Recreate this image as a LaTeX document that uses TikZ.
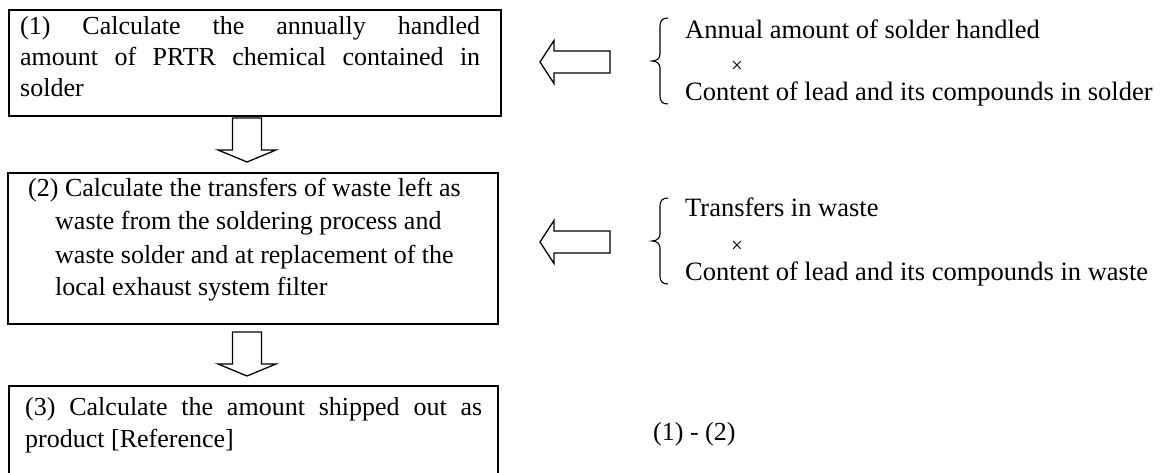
\documentclass[tikz,border=0pt]{standalone}
\usepackage{fontspec}
\setmainfont{Liberation Serif}
\begin{document}
\begin{tikzpicture}[x=1pt,y=-1pt,
  box/.style={draw,line width=1.6pt,rectangle,inner sep=0pt,anchor=north west},
  txt/.style={anchor=base west,inner sep=0pt,font=\fontsize{26}{32}\selectfont},
  rtxt/.style={anchor=base west,inner sep=0pt,font=\fontsize{26.5}{32}\selectfont},
  times/.style={anchor=center,inner sep=0pt,font=\fontsize{21}{24}\selectfont},
  fat/.style={draw,line width=1.3pt,fill=white,line join=miter},
  brace/.style={draw,line width=1.1pt},
  pics/downarrow/.style={code={
    \path[fat] (-14.5,0) -- (14.5,0) -- (14.5,32) -- (29,32) -- (0,44)
      -- (-29,32) -- (-14.5,32) -- cycle;}},
  pics/leftarrow/.style={code={
    \path[fat] (0,0) -- (14,-21.5) -- (14,-11) -- (70,-11) -- (70,11)
      -- (14,11) -- (14,21.5) -- cycle;}},
  pics/lbrace/.style={code={
    \path[brace] (8,-43) .. controls (2,-43) and (0,-40) .. (0,-35) -- (0,-7)
      .. controls (0,-3) and (-3,0) .. (-8,0)
      .. controls (-3,0) and (0,3) .. (0,7) -- (0,35)
      .. controls (0,40) and (2,43) .. (8,43);}}
]
\useasboundingbox (0,0) rectangle (1165,473);
\clip (0,0) rectangle (1165,473);

% --- step boxes ---
\node[box,minimum width=492pt,minimum height=106pt] (b1) at (8,9) {};
\node[box,minimum width=490pt,minimum height=151pt] (b2) at (7,172) {};
\node[box,minimum width=489pt,minimum height=110pt] (b3) at (8,385) {};

% --- step (1) ---
\node[txt] (t1a) at (20,35) {\makebox[460pt][s]{(1) Calculate the annually handled}};
\node[txt] (t1b) at (20,66) {\makebox[460pt][s]{amount of PRTR chemical contained in}};
\node[txt] (t1c) at (20,97) {solder};

% --- step (2) ---
\node[txt] (t2a) at (28,197) {(2) Calculate the transfers of waste left as};
\node[txt] (t2b) at (55,230) {waste from the soldering process and};
\node[txt] (t2c) at (55,263) {waste solder and at replacement of the};
\node[txt] (t2d) at (55,295) {local exhaust system filter};

% --- step (3) ---
\node[txt] (t3a) at (25,415) {\makebox[457pt][s]{(3) Calculate the amount shipped out as}};
\node[txt] (t3b) at (25,447) {product [Reference]};

% --- flow between steps ---
\pic at (247,118) {downarrow};
\pic at (247,332) {downarrow};

% --- inputs for step (1) ---
\pic at (540,62) {leftarrow};
\pic at (660,61) {lbrace};
\node[rtxt] (r1a) at (685,39) {Annual amount of solder handled};
\node[times] (r1x) at (737,67) {×};
\node[rtxt] (r1b) at (685,101) {Content of lead and its compounds in solder};

% --- inputs for step (2) ---
\pic at (540,242) {leftarrow};
\pic at (660,241) {lbrace};
\node[rtxt] (r2a) at (685,217) {Transfers in waste};
\node[times] (r2x) at (737,247) {×};
\node[rtxt] (r2b) at (685,280) {Content of lead and its compounds in waste};

% --- result for step (3) ---
\node[txt] (r3) at (653,440) {(1) - (2)};
\end{tikzpicture}
\end{document}
